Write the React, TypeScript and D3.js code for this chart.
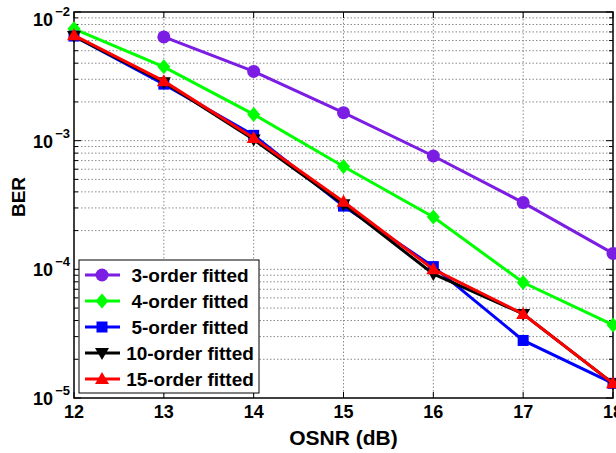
import * as d3 from "d3";

const osnr = [12, 13, 14, 15, 16, 17, 18];
const ber3 = [null, 6.4e-3, 3.45e-3, 1.65e-3, 7.6e-4, 3.3e-4, 1.33e-4];
const ber4 = [7.4e-3, 3.75e-3, 1.6e-3, 6.3e-4, 2.55e-4, 7.9e-5, 3.7e-5];
const ber5 = [6.5e-3, 2.75e-3, 1.1e-3, 3.1e-4, 1.05e-4, 2.8e-5, 1.3e-5];
const ber10 = [6.5e-3, 2.85e-3, 1.02e-3, 3.2e-4, 9.2e-5, 4.5e-5, 1.3e-5];
const ber15 = [6.6e-3, 2.9e-3, 1.05e-3, 3.35e-4, 1.0e-4, 4.5e-5, 1.3e-5];
const seriesNames = ["3-order fitted", "4-order fitted", "5-order fitted", "10-order fitted", "15-order fitted"];
const yTickExps = [-2, -3, -4, -5];

const W = 616;
const H = 453;
const margin = { left: 74, right: 3, top: 12, bottom: 55 };
const font = "'Liberation Sans', Arial, Helvetica, sans-serif";

type Marker = "circle" | "diamond" | "square" | "tri-down" | "tri-up";

const series: { name: string; values: (number | null)[]; color: string; marker: Marker }[] = [
  { name: seriesNames[0], values: ber3, color: "#7b1de2", marker: "circle" },
  { name: seriesNames[1], values: ber4, color: "#00ff00", marker: "diamond" },
  { name: seriesNames[2], values: ber5, color: "#0000ff", marker: "square" },
  { name: seriesNames[3], values: ber10, color: "#000000", marker: "tri-down" },
  { name: seriesNames[4], values: ber15, color: "#ff0000", marker: "tri-up" },
];

const MarkerShape = ({ type, x, y, color }: { type: Marker; x: number; y: number; color: string }) => {
  if (type === "circle") return <circle cx={x} cy={y} r={6.5} fill={color} />;
  if (type === "square") return <rect x={x - 5.5} y={y - 5.5} width={11} height={11} fill={color} />;
  if (type === "diamond")
    return <path d={`M${x},${y - 7.5}L${x + 6.5},${y}L${x},${y + 7.5}L${x - 6.5},${y}Z`} fill={color} />;
  if (type === "tri-down")
    return <path d={`M${x - 7},${y - 5}L${x + 7},${y - 5}L${x},${y + 7}Z`} fill={color} />;
  return <path d={`M${x - 7},${y + 5}L${x + 7},${y + 5}L${x},${y - 7}Z`} fill={color} />;
};

export default function App() {
  const x = d3.scaleLinear().domain([12, 18]).range([margin.left, W - margin.right]);
  const y = d3.scaleLog().domain([1e-5, 1e-2]).range([H - margin.bottom, margin.top]);
  const [x0, x1] = x.range();
  const [y0, y1] = y.range();

  const minorY: number[] = [];
  for (let e = -5; e < -2; e++) for (let m = 2; m <= 9; m++) minorY.push(m * Math.pow(10, e));
  const majorY = yTickExps.map((e) => Math.pow(10, e));

  const line = d3
    .line<[number, number | null]>()
    .defined((d) => d[1] != null)
    .x((d) => x(d[0]))
    .y((d) => y(d[1] as number));

  const grid = { stroke: "#8a8a8a", strokeWidth: 1, strokeDasharray: "1.5,2" };

  return (
    <svg width={W} height={H} style={{ position: "absolute", left: 0, top: 0, background: "#fff" }}>
      {/* grid */}
      {osnr.slice(1, -1).map((v) => (
        <line key={"gx" + v} x1={x(v)} x2={x(v)} y1={y1} y2={y0} {...grid} />
      ))}
      {[...minorY, ...majorY.slice(1, -1)].map((v, i) => (
        <line key={"gy" + i} x1={x0} x2={x1} y1={y(v)} y2={y(v)} {...grid} />
      ))}
      {/* ticks */}
      {osnr.map((v) => (
        <g key={"tx" + v}>
          <line x1={x(v)} x2={x(v)} y1={y0} y2={y0 - 6} stroke="#000" />
          <line x1={x(v)} x2={x(v)} y1={y1} y2={y1 + 6} stroke="#000" />
        </g>
      ))}
      {[...minorY, ...majorY].map((v, i) => {
        const len = majorY.includes(v) ? 7 : 4;
        return (
          <g key={"ty" + i}>
            <line x1={x0} x2={x0 + len} y1={y(v)} y2={y(v)} stroke="#000" />
            <line x1={x1} x2={x1 - len} y1={y(v)} y2={y(v)} stroke="#000" />
          </g>
        );
      })}
      <rect x={x0} y={y1} width={x1 - x0} height={y0 - y1} fill="none" stroke="#000" strokeWidth={1.5} />

      {/* series */}
      {series.map((s) => {
        const pts = osnr.map((v, i) => [v, s.values[i]] as [number, number | null]);
        return (
          <g key={s.name}>
            <path d={line(pts) ?? ""} fill="none" stroke={s.color} strokeWidth={3} />
            {pts
              .filter((p) => p[1] != null)
              .map((p, i) => (
                <MarkerShape key={i} type={s.marker} x={x(p[0])} y={y(p[1] as number)} color={s.color} />
              ))}
          </g>
        );
      })}

      {/* tick labels */}
      {osnr.map((v) => (
        <text key={"lx" + v} x={x(v)} y={y0 + 20} textAnchor="middle" fontFamily={font} fontWeight="bold" fontSize={18}>
          {v}
        </text>
      ))}
      {yTickExps.map((e) => {
        const ty = Math.max(y(Math.pow(10, e)) + 7, 26);
        return (
          <text key={"ly" + e} x={x0 - 21} y={ty} textAnchor="end" fontFamily={font} fontWeight="bold" fontSize={18}>
            10
            <tspan x={x0 - 4} dy={-10} fontSize={13} textAnchor="end">
              {"\u2212" + Math.abs(e)}
            </tspan>
          </text>
        );
      })}

      {/* axis titles */}
      <text x={(x0 + x1) / 2} y={445} textAnchor="middle" fontFamily={font} fontWeight="bold" fontSize={21}>
        OSNR (dB)
      </text>
      <text
        transform={`translate(25,${(y0 + y1) / 2 - 8}) rotate(-90)`}
        textAnchor="middle"
        fontFamily={font}
        fontWeight="bold"
        fontSize={19}
      >
        BER
      </text>

      {/* legend */}
      <g>
        <rect x={79} y={260} width={180} height={133} fill="#fff" stroke="#000" strokeWidth={1} />
        {series.map((s, i) => {
          const ly = 275 + i * 26;
          return (
            <g key={"lg" + s.name}>
              <line x1={85} x2={120} y1={ly} y2={ly} stroke={s.color} strokeWidth={3} />
              <MarkerShape type={s.marker} x={102} y={ly} color={s.color} />
              <text x={190} y={ly + 7} textAnchor="middle" fontFamily={font} fontWeight="bold" fontSize={19}>
                {s.name}
              </text>
            </g>
          );
        })}
      </g>
    </svg>
  );
}
